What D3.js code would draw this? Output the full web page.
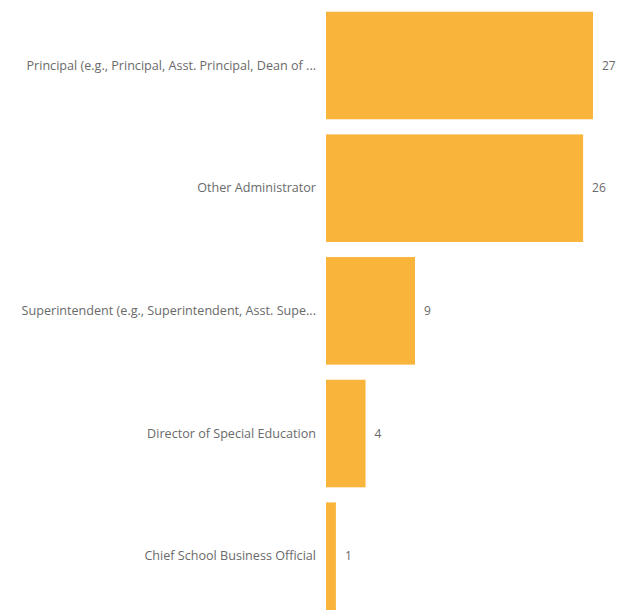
<!DOCTYPE html>
<html>
<head>
<meta charset="utf-8">
<script src="https://cdn.jsdelivr.net/npm/d3@7"></script>
<style>
  html, body { margin: 0; padding: 0; background: #ffffff; }
  svg { display: block; }
  text { font-family: "Open Sans", "Noto Sans", sans-serif; fill: #6a6a6a; }
</style>
</head>
<body>
<svg id="chart" width="623" height="616"></svg>
<script>
// Respondent roles and counts
const categories = [
  "Principal (e.g., Principal, Asst. Principal, Dean of ...",
  "Other Administrator",
  "Superintendent (e.g., Superintendent, Asst. Supe...",
  "Director of Special Education",
  "Chief School Business Official"
];
const counts = [27, 26, 9, 4, 1];

const width = 623, height = 616;
const plotLeft = 326, plotRight = 593;
const plotTop = 11.7, plotBottom = 610;

const svg = d3.select("#chart");

const x = d3.scaleLinear()
  .domain([0, 27])
  .range([plotLeft, plotRight]);

const y = d3.scaleBand()
  .domain(categories)
  .range([plotTop, plotBottom])
  .paddingInner(0.123)
  .paddingOuter(0);

const rows = categories.map((c, i) => ({ cat: c, val: counts[i] }));

// Bars
svg.append("g")
  .selectAll("rect")
  .data(rows)
  .join("rect")
  .attr("x", x(0))
  .attr("y", d => y(d.cat))
  .attr("width", d => x(d.val) - x(0))
  .attr("height", y.bandwidth())
  .attr("fill", "#F9B53B");

// Category axis labels (no line, no ticks)
const yAxis = d3.axisLeft(y).tickSize(0).tickPadding(10);
const gy = svg.append("g")
  .attr("transform", `translate(${plotLeft},0)`)
  .call(yAxis);
gy.select(".domain").remove();
gy.selectAll("text")
  .style("font-family", "'Open Sans', 'Noto Sans', sans-serif")
  .style("font-size", "12.6px")
  .attr("fill", "#6a6a6a");

// Value labels
svg.append("g")
  .selectAll("text")
  .data(rows)
  .join("text")
  .attr("x", d => x(d.val) + 9)
  .attr("y", d => y(d.cat) + y.bandwidth() / 2)
  .attr("dy", "0.35em")
  .style("font-size", "12px")
  .text(d => d.val);
</script>
</body>
</html>
